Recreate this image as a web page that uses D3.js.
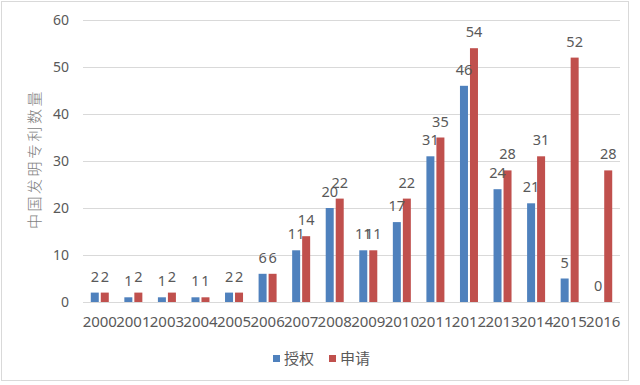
<style>
  body { margin: 0; background: #fff; }
  svg text { font-family: "Noto Sans", "Noto Sans CJK SC", sans-serif; fill: #595959; }
</style>

<div class="chartContainer"></div>

<script src="https://d3js.org/d3.v7.min.js"></script>
<script>
    // 资料
    const years = ['2000','2001','2003','2004','2005','2006','2007','2008','2009','2010','2011','2012','2013','2014','2015','2016'];
    const granted = [2, 1, 1, 1, 2, 6, 11, 20, 11, 17, 31, 46, 24, 21, 5, 0];
    const applied = [2, 2, 2, 1, 2, 6, 14, 22, 11, 22, 35, 54, 28, 31, 52, 28];
    const seriesNames = ['授权', '申请'];
    const colors = ['#4F81BD', '#C0504D'];
    const yTicks = [0, 10, 20, 30, 40, 50, 60];

    const svg = d3.select('.chartContainer')
                  .append('svg')
                  .attr('width', 640)
                  .attr('height', 385);

    // 外框
    svg.append('rect').attr('x', 1.5).attr('y', 1.5).attr('width', 627).attr('height', 379)
       .style('fill', 'none').style('stroke', '#d9d9d9');

    const x0 = d3.scaleBand().domain(years).range([83, 620]);
    const x1 = d3.scaleBand().domain(seriesNames)
                 .range([x0.bandwidth()/2 - 9, x0.bandwidth()/2 + 9]).paddingInner(0.2);
    const y = d3.scaleLinear().domain([0, 60]).range([302, 20]);

    // 网格线
    svg.append('g').selectAll('line').data(yTicks).enter().append('line')
       .attr('x1', 83).attr('x2', 620)
       .attr('y1', d => y(d) + 0.5).attr('y2', d => y(d) + 0.5)
       .style('stroke', '#d9d9d9').style('stroke-width', 1);

    // y 轴
    const yAxis = svg.append('g').attr('transform', 'translate(83,0)')
       .call(d3.axisLeft(y).tickValues(yTicks).tickSize(0).tickPadding(14));
    yAxis.select('.domain').remove();
    yAxis.selectAll('text').style('font-size', '14px').style('fill', '#595959');

    // x 轴
    const xAxis = svg.append('g').attr('transform', 'translate(0,302)')
       .call(d3.axisBottom(x0).tickSize(0).tickPadding(14));
    xAxis.select('.domain').remove();
    xAxis.selectAll('text').style('font-size', '15px').style('fill', '#595959');

    // 柱子
    const rows = years.map((yr, i) => ({year: yr, vals: [granted[i], applied[i]]}));
    const groups = svg.append('g').selectAll('g').data(rows).enter().append('g')
       .attr('transform', d => `translate(${x0(d.year)},0)`);

    groups.selectAll('rect')
       .data(d => d.vals.map((v, k) => ({name: seriesNames[k], v: v, k: k})))
       .enter().append('rect')
       .attr('x', d => x1(d.name))
       .attr('width', x1.bandwidth())
       .attr('y', d => y(d.v))
       .attr('height', d => y(0) - y(d.v))
       .style('fill', d => colors[d.k]);

    // 数据标签
    groups.selectAll('text.lbl')
       .data(d => d.vals.map((v, k) => ({name: seriesNames[k], v: v, k: k})))
       .enter().append('text').attr('class', 'lbl')
       .attr('x', d => x1(d.name) + x1.bandwidth()/2)
       .attr('y', d => y(d.v) - 11)
       .attr('text-anchor', 'middle')
       .style('font-size', '14.5px')
       .text(d => d.v);

    // y 轴标题
    svg.append('text')
       .attr('transform', 'translate(40,159) rotate(-90)')
       .attr('text-anchor', 'middle')
       .style('font-family', '"Noto Sans CJK SC"')
       .style('font-weight', 300)
       .style('font-size', '15px')
       .style('letter-spacing', '2.5px')
       .style('fill', '#7f7f7f')
       .text('中国发明专利数量');

    // 图例
    const legendX = [273, 329];
    const legend = svg.append('g').selectAll('g').data(seriesNames).enter().append('g')
       .attr('transform', (d, i) => `translate(${legendX[i]},355)`);
    legend.append('rect').attr('width', 7).attr('height', 7).style('fill', (d, i) => colors[i]);
    legend.append('text').attr('x', 11).attr('y', 8.5)
       .style('font-family', '"Noto Sans CJK SC"')
       .style('font-size', '15px')
       .text(d => d);
</script>
